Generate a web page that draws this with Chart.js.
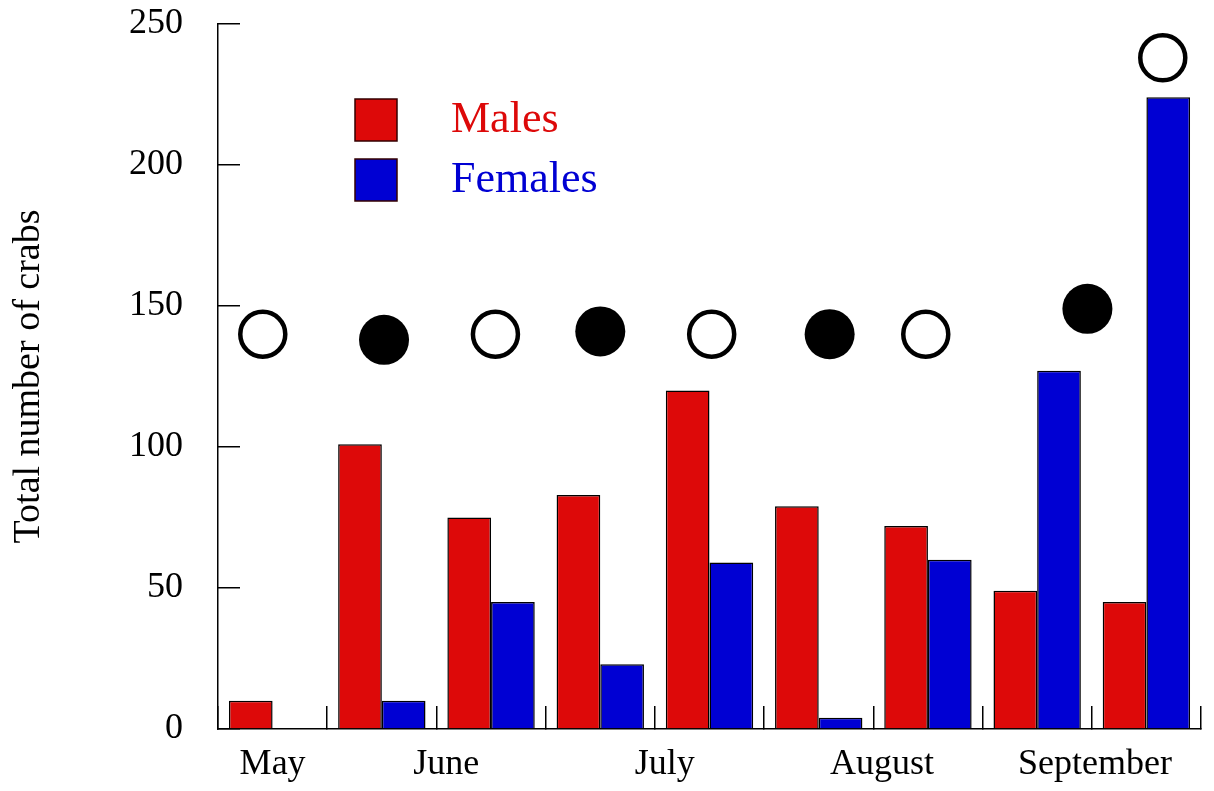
<!DOCTYPE html>
<html>
<head>
<meta charset="utf-8">
<script src="https://cdn.jsdelivr.net/npm/chart.js@4.4.1/dist/chart.umd.min.js"></script>
<style>
  html, body { margin: 0; padding: 0; background: #fff; }
  #wrap { width: 1214px; height: 791px; position: relative; }
</style>
</head>
<body>
<div id="wrap"><canvas id="chart"></canvas></div>
<script>
// sampling dates (index along the x axis), one pair of bars each
const samples = [0, 1, 2, 3, 4, 5, 6, 7, 8];
const males   = [10, 101, 75, 83, 120, 79, 72, 49, 45];
const females = [0, 10, 45, 23, 59, 4, 60, 127, 224];

// moon phases: x in sample units, y on the count scale
const fullMoonX = [-0.09, 2.04, 4.02, 5.98, 8.15];
const fullMoonY = [140, 140, 140, 140, 238];
const newMoonX  = [1.02, 3.0, 5.1, 7.46];
const newMoonY  = [138, 141, 140, 149];

// month names under the axis, same sample units
const months   = ['May', 'June', 'July', 'August', 'September'];
const monthPos = [0, 1.59, 3.59, 5.58, 7.53];

const RED = '#dd0909';
const BLUE = '#0000d3';
const SERIF = '"Liberation Serif", "Times New Roman", serif';

// legend drawn inside the plot, like the original figure
const boxLegend = {
  id: 'boxLegend',
  afterDraw(chart) {
    const ctx = chart.ctx;
    ctx.save();
    ctx.font = '44px ' + SERIF;
    ctx.textBaseline = 'alphabetic';
    chart.data.datasets.slice(0, 2).forEach((ds, i) => {
      const top = 99 + i * 60;
      ctx.fillStyle = ds.backgroundColor;
      ctx.fillRect(355, top, 42, 42);
      ctx.strokeStyle = '#300';
      ctx.lineWidth = 1.5;
      ctx.strokeRect(355, top, 42, 42);
      ctx.fillStyle = ds.backgroundColor;
      ctx.fillText(ds.label, 451, 132 + i * 60);
    });
    ctx.restore();
  }
};

const toPts = (xs, ys) => xs.map((x, i) => ({ x, y: ys[i] }));
const lo = samples[0] - 0.5;
const hi = samples[samples.length - 1] + 0.5;

// bars and moons share one linear x axis (a second index axis would split the bar groups)
new Chart(document.getElementById('chart'), {
  type: 'bar',
  data: {
    labels: samples,
    datasets: [
      { label: 'Males', data: males, backgroundColor: RED, borderColor: '#000', borderWidth: 1.5,
        categoryPercentage: 0.8, barPercentage: 1.0, order: 2 },
      { label: 'Females', data: females, backgroundColor: BLUE, borderColor: '#000', borderWidth: 1.5,
        categoryPercentage: 0.8, barPercentage: 1.0, order: 2 },
      { type: 'scatter', label: 'Full moon', data: toPts(fullMoonX, fullMoonY),
        pointRadius: 22.5, pointBackgroundColor: '#fff', pointBorderColor: '#000',
        pointBorderWidth: 4.5, order: 1 },
      { type: 'scatter', label: 'New moon', data: toPts(newMoonX, newMoonY),
        pointRadius: 25, pointBackgroundColor: '#000', pointBorderColor: '#000',
        pointBorderWidth: 0, order: 1 }
    ]
  },
  options: {
    responsive: true,
    maintainAspectRatio: false,
    animation: false,
    layout: { autoPadding: false, padding: { top: 24, right: 13, left: 0, bottom: 0 } },
    plugins: { legend: { display: false }, tooltip: { enabled: false } },
    scales: {
      x: {
        type: 'linear',
        position: 'bottom',
        weight: 0,
        offset: false,
        min: lo,
        max: hi,
        // tick marks on the boundaries between sampling dates
        afterBuildTicks: s => {
          s.ticks = samples.map(v => ({ value: v - 0.5 })).concat([{ value: hi }]);
        },
        grid: { display: true, offset: false, drawOnChartArea: false, drawTicks: true,
                tickLength: -23, color: '#000', lineWidth: 1.5 },
        border: { display: true, color: '#000', width: 1.5 },
        ticks: { display: false },
        afterFit: s => { s.height = 0; s.paddingLeft = 0; s.paddingRight = 0; }
      },
      xm: {
        type: 'linear',
        position: 'bottom',
        weight: 1,
        offset: false,
        min: lo,
        max: hi,
        grid: { display: false, drawTicks: false },
        border: { display: false },
        afterBuildTicks: s => { s.ticks = monthPos.map(v => ({ value: v })); },
        ticks: {
          autoSkip: false, maxRotation: 0, padding: 14, color: '#000',
          font: { family: SERIF, size: 36 },
          callback: (v, i) => months[i]
        },
        afterFit: s => { s.height = 62; s.paddingLeft = 0; s.paddingRight = 0; }
      },
      y: {
        min: 0,
        max: 250,
        ticks: { stepSize: 50, padding: 57, color: '#000', font: { family: SERIF, size: 36 } },
        grid: { drawOnChartArea: false, drawTicks: true, tickLength: -22, color: '#000', lineWidth: 1.5 },
        border: { display: true, color: '#000', width: 1.5 },
        title: { display: true, text: 'Total number of crabs', color: '#000',
                 font: { family: SERIF, size: 38 }, padding: { top: 6, bottom: 0 } },
        afterFit: s => { s.width = 218; s.paddingTop = 0; s.paddingBottom = 0; }
      }
    }
  },
  plugins: [boxLegend]
});
</script>
</body>
</html>
